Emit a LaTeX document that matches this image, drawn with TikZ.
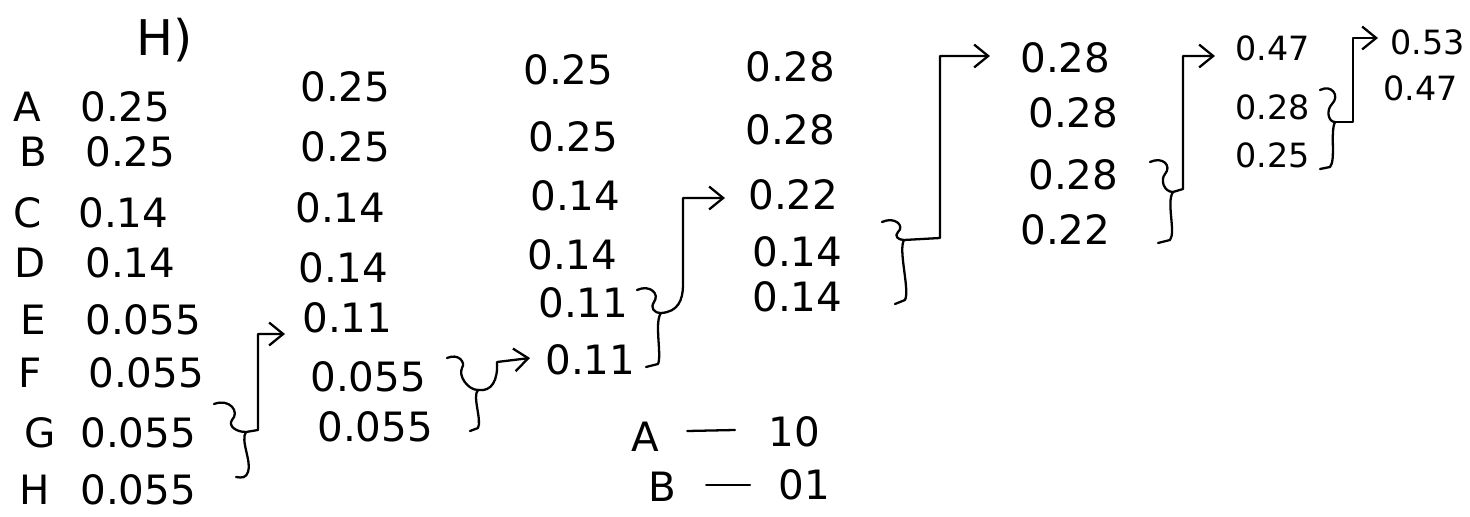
\documentclass[tikz,border=0pt]{standalone}
\usepackage{fontspec}
\setmainfont{DejaVu Sans}
\usetikzlibrary{arrows.meta,calc}
\tikzset{
    pen/.style={line width=1.3pt, line cap=round, line join=round},
    val/.style={anchor=west, inner sep=0pt, font=\fontsize{23}{26}\selectfont},
    smallval/.style={val, font=\fontsize{19}{22}\selectfont},
    tag/.style={anchor=center, inner sep=0pt, font=\fontsize{23}{26}\selectfont},
    >={Straight Barb[length=8pt,width=13pt]}
}

\begin{document}
\begin{tikzpicture}[x=0.02cm, y=-0.02cm]
\fill[white] (0,0) rectangle (1470,517);
\useasboundingbox (0,0) rectangle (1470,517);

\node[tag, font=\fontsize{28}{30}\selectfont] (qnum) at (165,40) {H)};

% symbols with their probabilities
\node[tag] (sA) at (27,107) {A};
\node[val] (p01) at (80,107) {0.25};
\node[tag] (sB) at (33,152) {B};
\node[val] (p02) at (85,152) {0.25};
\node[tag] (sC) at (28,213) {C};
\node[val] (p03) at (78,213) {0.14};
\node[tag] (sD) at (30,263) {D};
\node[val] (p04) at (85,263) {0.14};
\node[tag] (sE) at (33,320) {E};
\node[val] (p05) at (85,320) {0.055};
\node[tag] (sF) at (30,373) {F};
\node[val] (p06) at (88,373) {0.055};
\node[tag] (sG) at (40,433) {G};
\node[val] (p07) at (80,433) {0.055};
\node[tag] (sH) at (35,490) {H};
\node[val] (p08) at (80,490) {0.055};

% reduction 1
\node[val] (p11) at (300,87) {0.25};
\node[val] (p12) at (300,147) {0.25};
\node[val] (p13) at (295,208) {0.14};
\node[val] (p14) at (298,268) {0.14};
\node[val] (p15) at (302,318) {0.11};
\node[val] (p16) at (310,377) {0.055};
\node[val] (p17) at (317,427) {0.055};

% reduction 2
\node[val] (p21) at (523,70) {0.25};
\node[val] (p22) at (528,137) {0.25};
\node[val] (p23) at (530,196) {0.14};
\node[val] (p24) at (527,255) {0.14};
\node[val] (p25) at (538,303) {0.11};
\node[val] (p26) at (545,360) {0.11};

% reduction 3
\node[val] (p31) at (745,67) {0.28};
\node[val] (p32) at (745,130) {0.28};
\node[val] (p33) at (748,195) {0.22};
\node[val] (p34) at (752,252) {0.14};
\node[val] (p35) at (752,297) {0.14};

% reduction 4
\node[val] (p41) at (1020,58) {0.28};
\node[val] (p42) at (1028,113) {0.28};
\node[val] (p43) at (1028,175) {0.28};
\node[val] (p44) at (1020,230) {0.22};

% reduction 5
\node[smallval] (p51) at (1235,48) {0.47};
\node[smallval] (p52) at (1235,107) {0.28};
\node[smallval] (p53) at (1235,155) {0.25};

% reduction 6
\node[smallval] (p61) at (1390,42) {0.53};
\node[smallval] (p62) at (1383,88) {0.47};

% codewords
\node[tag] (kA) at (645,437) {A};
\node[val] (cA) at (768,432) {10};
\node[tag] (kB) at (662,487) {B};
\node[val] (cB) at (778,485) {01};
\draw[pen] ($(kA.east)+(28,-6)$) -- ($(cA.west)+(-33,-2)$);
\draw[pen] ($(kB.east)+(30,-2)$) -- ($(cB.west)+(-28,0)$);

% G+H -> 0.11
\draw[pen] (214,404) .. controls (230,398) and (240,412) .. (232,420)
    .. controls (228,426) and (236,432) .. (246,432) coordinate (j1);
\draw[pen] (j1) .. controls (240,440) and (252,462) .. (248,472)
    .. controls (246,478) and (242,478) .. (236,477);
\draw[pen, ->] (j1) -- ++(12,-2) |- ($(p15.west)+(-17,16)$);

% 0.055+0.055 -> 0.11
\draw[pen] (447,358) .. controls (458,353) and (466,362) .. (462,368)
    .. controls (458,376) and (468,390) .. (478,390) coordinate (j2);
\draw[pen] (j2) .. controls (472,396) and (482,420) .. (478,428) -- (470,431);
\draw[pen, ->] (j2) .. controls (492,392) and (498,380) .. (497,362) -- ($(p26.west)+(-15,-2)$);

% 0.11+0.11 -> 0.22
\draw[pen] (637,290) .. controls (650,284) and (660,294) .. (654,302)
    .. controls (650,308) and (654,313) .. (661,313) coordinate (j3);
\draw[pen] (j3) .. controls (654,322) and (662,355) .. (658,364) -- (646,367);
\draw[pen, ->] (j3) .. controls (678,312) and (683,300) .. (683,285) |- ($(p33.west)+(-23,3)$);

% 0.14+0.14 -> 0.28
\draw[pen] (882,222) .. controls (895,216) and (905,226) .. (898,232)
    .. controls (894,236) and (898,240) .. (904,240) coordinate (j4);
\draw[pen] (j4) .. controls (898,250) and (910,290) .. (905,300) -- (895,304);
\draw[pen, ->] (j4) -- ++(36,-2) |- ($(p41.west)+(-30,-2)$);

% 0.28+0.22 -> 0.47
\draw[pen] (1150,162) .. controls (1163,156) and (1172,166) .. (1165,174)
    .. controls (1160,180) and (1164,192) .. (1173,192) coordinate (j5);
\draw[pen] (j5) .. controls (1166,202) and (1176,232) .. (1170,240) -- (1158,243);
\draw[pen, ->] (j5) -- ++(10,-3) |- ($(p51.west)+(-20,8)$);

% 0.28+0.25 -> 0.53
\draw[pen] (1320,90) .. controls (1332,84) and (1340,96) .. (1332,104)
    .. controls (1326,110) and (1328,122) .. (1335,122) coordinate (j6);
\draw[pen] (j6) .. controls (1330,132) and (1336,160) .. (1330,167) -- (1320,169);
\draw[pen, ->] (j6) -- ++(18,0) |- ($(p61.west)+(-12,-4)$);

\end{tikzpicture}
\end{document}
